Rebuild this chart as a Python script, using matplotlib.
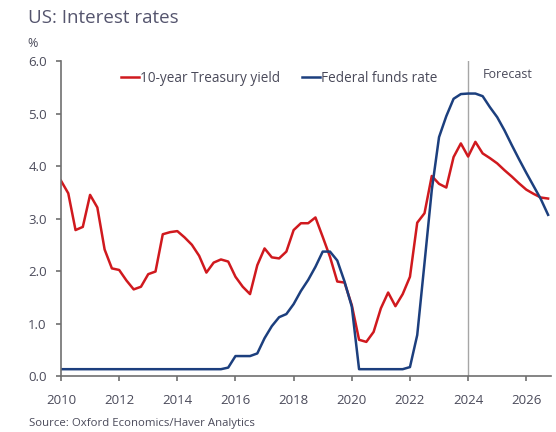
import numpy as np
import matplotlib
matplotlib.use("Agg")
import matplotlib.pyplot as plt

# quarterly, 2010Q1 .. 2026Q4
quarters = 2010 + 0.25 * np.arange(68)

treasury_10y = [
    3.72, 3.48, 2.78, 2.84, 3.45, 3.21, 2.41, 2.05,
    2.02, 1.82, 1.65, 1.70, 1.94, 1.99, 2.70, 2.74,
    2.76, 2.64, 2.50, 2.29, 1.97, 2.16, 2.22, 2.18,
    1.89, 1.70, 1.56, 2.11, 2.43, 2.26, 2.24, 2.37,
    2.78, 2.91, 2.91, 3.02, 2.65, 2.27, 1.80, 1.78,
    1.35, 0.69, 0.65, 0.84, 1.29, 1.59, 1.33, 1.56,
    1.89, 2.92, 3.10, 3.81, 3.66, 3.59, 4.17, 4.43,
    4.18, 4.46, 4.24, 4.15, 4.05, 3.92, 3.80, 3.67,
    3.55, 3.47, 3.40, 3.38,
]

fed_funds = [0.13] * 23 + [
    0.16,
    0.38, 0.38, 0.38, 0.43,
    0.72, 0.95, 1.12, 1.18,
    1.37, 1.62, 1.83, 2.08,
    2.37, 2.37, 2.20, 1.80,
    1.32, 0.13, 0.13, 0.13, 0.13, 0.13, 0.13, 0.13,
    0.17, 0.78, 2.15, 3.54,
    4.55, 4.95, 5.28, 5.37,
    5.38, 5.38, 5.33, 5.12,
    4.93, 4.68, 4.40, 4.13,
    3.87, 3.62, 3.37, 3.07,
]

forecast_start = 2024.0
year_ticks = list(range(2010, 2027, 2))
y_ticks = [0.0, 1.0, 2.0, 3.0, 4.0, 5.0, 6.0]

plt.rcParams["font.family"] = ["Open Sans", "DejaVu Sans"]
text_col = "#4a4a5a"
spine_col = "#6f6f6f"

fig = plt.figure(figsize=(5.56, 4.32), dpi=100)
ax = fig.add_axes([0.1097, 0.1296, 0.8813, 0.7292])

ax.plot(quarters, treasury_10y, color="#d0191e", lw=1.8, label="10-year Treasury yield")
ax.plot(quarters, fed_funds, color="#1c3f7e", lw=1.8, label="Federal funds rate")
ax.axvline(forecast_start, color="#a6a6a6", lw=1.0, zorder=0)
ax.text(forecast_start + 0.5, 5.75, "Forecast", color=text_col, fontsize=9, va="center")

ax.set_xlim(2010, 2026.85)
ax.set_ylim(0, 6)
ax.set_xticks(year_ticks)
ax.set_xticklabels([str(y) for y in year_ticks])
ax.set_yticks(y_ticks)
ax.set_yticklabels([f"{v:.1f}" for v in y_ticks])
ax.tick_params(colors=spine_col, labelcolor=text_col, labelsize=9.5, length=3.8, width=1.2)
ax.tick_params(axis="x", pad=9)
ax.tick_params(axis="y", pad=6.5)
for side in ("top", "right"):
    ax.spines[side].set_visible(False)
for side in ("left", "bottom"):
    ax.spines[side].set_color(spine_col)
    ax.spines[side].set_linewidth(1.2)

leg = ax.legend(loc="upper left", bbox_to_anchor=(0.098, 1.008), ncol=2, frameon=False,
                fontsize=9.8, handlelength=1.3, handletextpad=0.1, columnspacing=1.6,
                labelcolor=text_col)

fig.text(0.05, 0.958, "US: Interest rates", fontsize=13.5, color="#55556e", va="center")
fig.text(0.05, 0.9, "%", fontsize=9, color=text_col, va="center")
fig.text(0.053, 0.02, "Source: Oxford Economics/Haver Analytics", fontsize=8.2, color=text_col, va="center")

fig.savefig("out.png", dpi=100)
